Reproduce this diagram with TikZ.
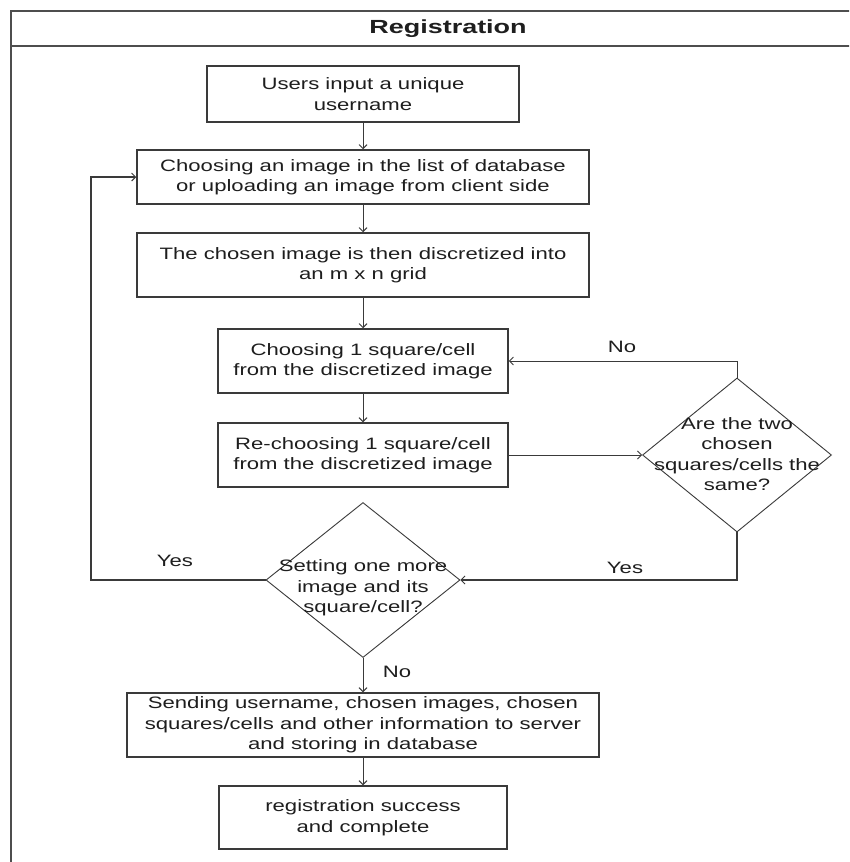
\documentclass[tikz,border=0pt]{standalone}
\usepackage{fontspec}
\newfontfamily\bodyfont{Liberation Sans}[FakeStretch=1.34]
\newfontfamily\titlefont{Liberation Sans}[FakeStretch=1.42]
\usetikzlibrary{shapes.geometric,arrows.meta}
\definecolor{linec}{HTML}{3A3A3A}
\definecolor{textc}{HTML}{1E1E1E}
\begin{document}
\begin{tikzpicture}[x=1pt,y=-1pt,
  txt/.style={text=textc,font=\bodyfont\fontsize{16.5}{20.5}\selectfont,align=center,inner sep=0pt},
  box/.style={txt,draw=linec,line width=1.5pt,fill=white},
  dia/.style={diamond,draw=linec,line width=0.9pt,inner sep=0pt},
  arr/.style={draw=linec,line width=0.9pt,-{Straight Barb[length=4pt,width=8pt,line width=0.9pt]}},
  thick arr/.style={arr,line width=1.6pt},
  frame/.style={draw=linec!90,line width=2pt},
  lbl/.style={txt}]
\useasboundingbox (0,0) rectangle (849,862);
\clip (0,0) rectangle (849,862);
\fill[white] (0,0) rectangle (849,862);
% frame
\draw[frame] (10.5,900) -- (10.5,11) -- (900,11);
\draw[frame] (10.5,46) -- (900,46);
\node[text=textc,font=\titlefont\bfseries\fontsize{19}{22}\selectfont] (title) at (448,28.5) {Registration};
% boxes
\node[box,minimum width=312pt,minimum height=56pt] (b1) at (363,94) {Users input a unique\\username};
\node[box,minimum width=452pt,minimum height=54pt] (b2) at (363,177) {Choosing an image in the list of database\\or uploading an image from client side};
\node[box,minimum width=452pt,minimum height=64pt] (b3) at (363,265) {The chosen image is then discretized into\\an m x n grid};
\node[box,minimum width=290pt,minimum height=64pt] (b4) at (363,361) {Choosing 1 square/cell\\from the discretized image};
\node[box,minimum width=290pt,minimum height=64pt] (b5) at (363,455) {Re-choosing 1 square/cell\\from the discretized image};
\node[dia,minimum width=189pt,minimum height=154pt] (d1) at (737,455) {};
\node[txt] (d1t) at (737,454) {Are the two\\chosen\\squares/cells the\\same?};
\node[dia,minimum width=194pt,minimum height=155pt] (d2) at (363,580) {};
\node[txt] (d2t) at (363,588) {Setting one more\\image and its\\square/cell?};
\node[box,minimum width=472pt,minimum height=64pt] (b6) at (363,725) {Sending username, chosen images, chosen\\squares/cells and other information to server\\and storing in database};
\node[box,minimum width=288pt,minimum height=63pt] (b7) at (363,817.5) {registration success\\and complete};
% connectors
\draw[arr] (b1) -- (b2);
\draw[arr] (b2) -- (b3);
\draw[arr] (b3) -- (b4);
\draw[arr] (b4) -- (b5);
\draw[arr] (b5.east) -- (d1.west);
\draw[arr] (d1.north) |- (b4.east);
\draw[thick arr] (d1.south) |- (d2.east);
\coordinate (lp) at (91,580);
\draw[thick arr] (d2.west) -- (lp) |- (b2.west);
\draw[arr] (d2.south) -- (b6.north);
\draw[arr] (b6) -- (b7);
% labels
\node[lbl] (lno1) at (622,347) {No};
\node[lbl] (lyes1) at (625,568) {Yes};
\node[lbl] (lyes2) at (175,561) {Yes};
\node[lbl] (lno2) at (397,672) {No};
\end{tikzpicture}
\end{document}
